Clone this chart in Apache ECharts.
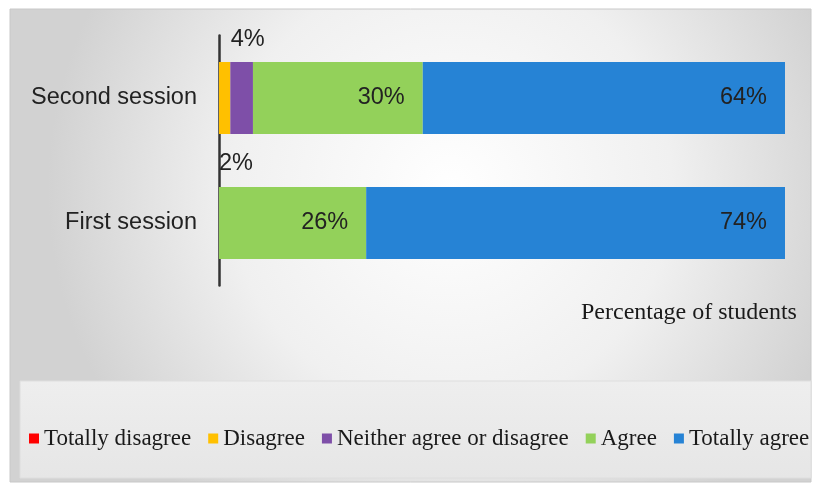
<!DOCTYPE html>
<html><head><meta charset="utf-8">
<script src="https://cdn.jsdelivr.net/npm/echarts@6/dist/echarts.min.js"></script>
<style>html,body{margin:0;padding:0;background:#fff}#c{width:813px;height:485px}</style>
</head><body><div id="c"></div>
<script>
// ---- data ----
const categories = ['First session', 'Second session'];
const seriesNames = ['Totally disagree', 'Disagree', 'Neither agree or disagree', 'Agree', 'Totally agree'];
const totallyDisagree = [0, 0];
const disagree = [0, 2];
const neither = [0, 4];
const agree = [26, 30];
const totallyAgree = [74, 64];
const axisTitle = 'Percentage of students';

// ---- styles ----
const colors = ['#FF0000', '#FFC000', '#7E4FA8', '#93D15A', '#2683D5'];
const sansFont = 'Liberation Sans, Arial, sans-serif';
const serifFont = 'Liberation Serif, Times New Roman, serif';
const labelBase = { show: true, formatter: '{c}%', fontFamily: sansFont, fontSize: 23.5, color: '#222' };

function build(values, labelFor) {
  return values.map((v, i) => ({ value: v, label: v > 0 ? labelFor(i) : { show: false } }));
}

const seriesData = [
  build(totallyDisagree, () => ({ show: false })),
  build(disagree, () => Object.assign({}, labelBase, { position: [0, 102], align: 'left', verticalAlign: 'middle' })),
  build(neither, () => Object.assign({}, labelBase, { position: 'top', distance: 10, offset: [6, 0] })),
  build(agree, () => Object.assign({}, labelBase, { position: 'insideRight', distance: 18 })),
  build(totallyAgree, () => Object.assign({}, labelBase, { position: 'insideRight', distance: 18 }))
];

const chart = echarts.init(document.getElementById('c'));
chart.setOption({
  animation: false,
  color: colors,
  graphic: [
    { type: 'rect', silent: true, z: -10, shape: { x: 10, y: 9, width: 801, height: 473 },
      style: { fill: new echarts.graphic.RadialGradient(0.55, 0.38, 0.85, [
        { offset: 0, color: '#ffffff' }, { offset: 0.55, color: '#f0f0f0' }, { offset: 1, color: '#d2d2d2' }]),
        stroke: '#c8c8c8', lineWidth: 1 } },
    { type: 'rect', silent: true, z: -9, shape: { x: 20, y: 381, width: 791, height: 97 },
      style: { fill: new echarts.graphic.LinearGradient(0, 0, 0, 1, [
        { offset: 0, color: '#eeeeee' }, { offset: 1, color: '#e6e6e6' }]), stroke: '#dedede', lineWidth: 1 } },
    { type: 'text', silent: true, left: 581, top: 301,
      style: { text: axisTitle, font: '24px ' + serifFont, fill: '#1a1a1a' } }
  ],
  grid: { left: 219, right: 28, top: 35.5, bottom: 199.5, containLabel: false },
  xAxis: { type: 'value', min: 0, max: 100, show: false },
  yAxis: {
    type: 'category', data: categories,
    axisLine: { show: true, lineStyle: { color: '#333', width: 2.5 } },
    axisTick: { show: false },
    axisLabel: { fontFamily: sansFont, fontSize: 23.5, color: '#222', margin: 22 }
  },
  legend: {
    data: seriesNames, left: 24, top: 422, width: 790, padding: [5, 0, 5, 5],
    icon: 'rect', itemWidth: 10, itemHeight: 10, itemGap: 17,
    textStyle: { fontFamily: serifFont, fontSize: 23, color: '#1a1a1a' }
  },
  series: seriesNames.map((name, k) => ({
    name: name, type: 'bar', stack: 'total', barWidth: 72,
    data: seriesData[k]
  }))
});
</script></body></html>
